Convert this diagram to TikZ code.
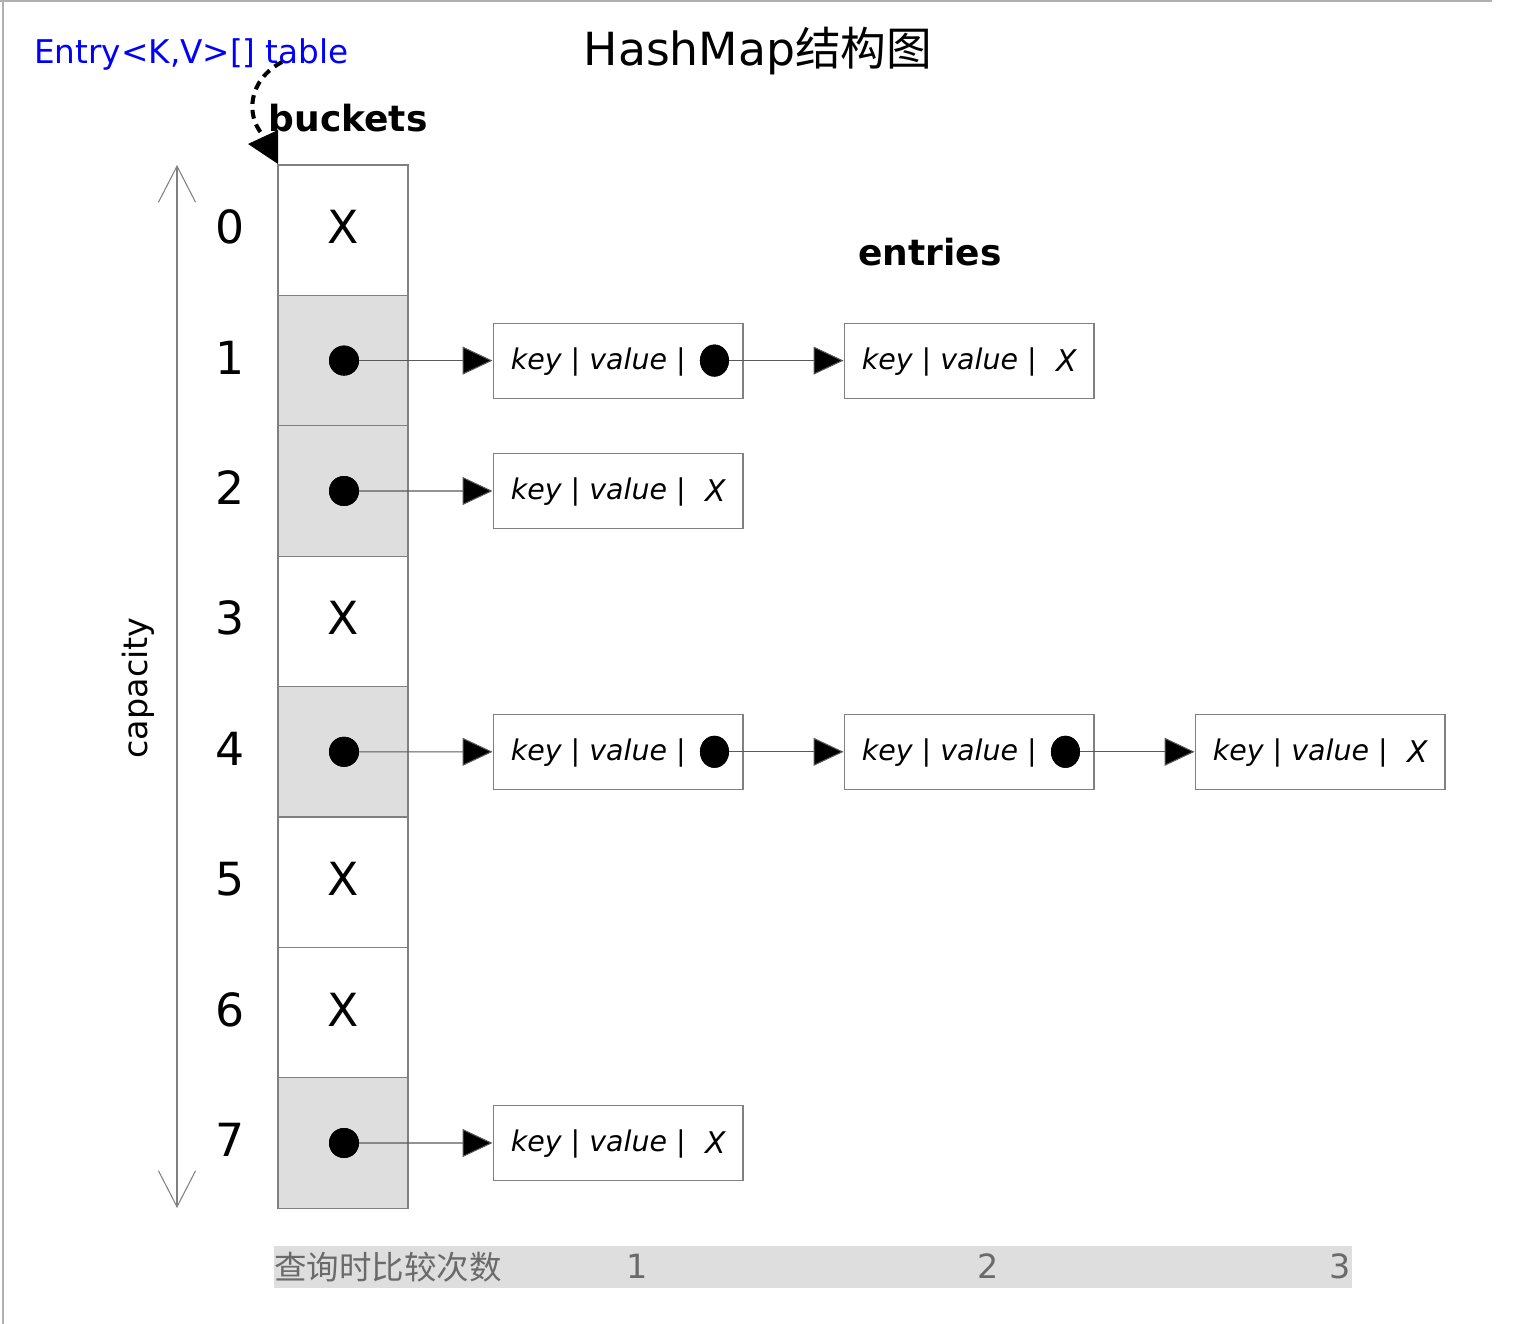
\documentclass[tikz,border=0pt]{standalone}
\usepackage{fontspec}
\setmainfont{DejaVu Sans}
\newfontfamily\cjk{Noto Sans CJK SC}
\usetikzlibrary{arrows.meta,shapes.geometric}
\definecolor{cellgray}{HTML}{DEDEDE}
\definecolor{edgegray}{HTML}{808080}
\definecolor{framegray}{HTML}{B0B0B0}
\definecolor{bartext}{HTML}{6A6A6A}
\tikzset{
  bucket/.style={draw=edgegray, line width=0.6pt, minimum width=2.6cm, minimum height=2.608cm, inner sep=0pt},
  fullb/.style={bucket, fill=cellgray},
  emptyb/.style={bucket, fill=white},
  bigtxt/.style={inner sep=0pt, font=\fontsize{26pt}{30pt}\selectfont},
  entrybox/.style={draw=edgegray, line width=0.6pt, minimum width=5cm, minimum height=1.5cm, inner sep=0pt},
  entrytxt/.style={inner sep=0pt, anchor=west, font=\fontsize{16.2pt}{19pt}\selectfont\itshape},
  entryx/.style={inner sep=0pt, font=\fontsize{17pt}{19pt}\selectfont\itshape},
  bdot/.style={circle, fill=black, minimum size=0.6cm, inner sep=0pt},
  edot/.style={ellipse, fill=black, minimum width=0.58cm, minimum height=0.64cm, inner sep=0pt},
  link/.style={draw=black!65, line width=0.6pt, -{Triangle[length=0.6cm,width=0.56cm,fill=black]}},
  boldlbl/.style={inner sep=0pt, font=\fontsize{20.5pt}{24pt}\selectfont\bfseries},
}
\begin{document}
\begin{tikzpicture}[x=0.02cm,y=-0.02cm]
\useasboundingbox (0,0) rectangle (1534,1324);
% frame
\draw[framegray, line width=1.2pt] (0,1) -- (1492,1);
\draw[framegray, line width=1.2pt] (3,0) -- (3,1324);

% title and labels
\node[inner sep=0pt, font=\fontsize{26pt}{30pt}\selectfont] (title) at (758,51) {HashMap{\cjk 结构图}};
\node[inner sep=0pt, text=blue, font=\fontsize{18.6pt}{22pt}\selectfont] (tbl) at (191.5,54) {Entry<K,V>[] table};
\node[boldlbl] (bk) at (348,118) {buckets};
\node[boldlbl] (ent) at (930,252) {entries};

% buckets
\foreach \i/\s in {0/emptyb,1/fullb,2/fullb,3/emptyb,4/fullb,5/emptyb,6/emptyb,7/fullb}{
  \node[\s] (b\i) at (343,{230.2+130.4*\i}) {};
  \node[bigtxt] (n\i) at (230,{227+130.4*\i}) {\i};
}
\foreach \i in {0,3,5,6}{
  \node[bigtxt] (x\i) at (343,{227+130.4*\i}) {X};
}
\foreach \i in {1,2,4,7}{
  \node[bdot] (d\i) at (344,{230.2+130.4*\i}) {};
}

% pointer from table label to buckets
\coordinate (corner) at (278,164);
\draw[black, line width=2.3pt, dash pattern=on 5pt off 3.5pt] (282,62) .. controls (248,80) and (246,115) .. (262,134);
\fill[black] (248,144) -- (278,130) -- (corner) -- cycle;

% capacity arrow
\coordinate (capTop) at (177,165);
\coordinate (capBot) at (177,1208);
\draw[edgegray, line width=0.6pt, {Straight Barb[length=0.72cm,width=0.74cm]}-{Straight Barb[length=0.72cm,width=0.74cm]}] (capTop) -- (capBot);
\node[inner sep=0pt, rotate=90, font=\fontsize{19pt}{22pt}\selectfont] (cap) at (138,688) {capacity};

% entries: row 1
\node[entrybox] (e11) at (618,360.6) {};
\node[entrytxt] (t11) at ([xshift=0.36cm,yshift=-0.02cm]e11.west) {key | value |};
\node[edot] (f11) at ([xshift=4.44cm]e11.west) {};
\node[entrybox] (e12) at (969,360.6) {};
\node[entrytxt] (t12) at ([xshift=0.36cm,yshift=-0.02cm]e12.west) {key | value |};
\node[entryx] (g12) at ([xshift=4.46cm]e12.west) {X};
% row 2
\node[entrybox] (e21) at (618,491) {};
\node[entrytxt] (t21) at ([xshift=0.36cm,yshift=-0.02cm]e21.west) {key | value |};
\node[entryx] (g21) at ([xshift=4.46cm]e21.west) {X};
% row 4
\node[entrybox] (e41) at (618,751.8) {};
\node[entrytxt] (t41) at ([xshift=0.36cm,yshift=-0.02cm]e41.west) {key | value |};
\node[edot] (f41) at ([xshift=4.44cm]e41.west) {};
\node[entrybox] (e42) at (969,751.8) {};
\node[entrytxt] (t42) at ([xshift=0.36cm,yshift=-0.02cm]e42.west) {key | value |};
\node[edot] (f42) at ([xshift=4.44cm]e42.west) {};
\node[entrybox] (e43) at (1320,751.8) {};
\node[entrytxt] (t43) at ([xshift=0.36cm,yshift=-0.02cm]e43.west) {key | value |};
\node[entryx] (g43) at ([xshift=4.46cm]e43.west) {X};
% row 7
\node[entrybox] (e71) at (618,1143) {};
\node[entrytxt] (t71) at ([xshift=0.36cm,yshift=-0.02cm]e71.west) {key | value |};
\node[entryx] (g71) at ([xshift=4.46cm]e71.west) {X};

% links
\draw[link] (d1.center) -- (e11.west);
\draw[link] (f11.center) -- (e12.west);
\draw[link] (d2.center) -- (e21.west);
\draw[link] (d4.center) -- (e41.west);
\draw[link] (f41.center) -- (e42.west);
\draw[link] (f42.center) -- (e43.west);
\draw[link] (d7.center) -- (e71.west);
% redraw dots on top
\foreach \n in {d1,d2,d4,d7}{\fill[black] (\n) circle[radius=0.3cm];}
\foreach \n in {f11,f41,f42}{\fill[black] (\n) ellipse[x radius=0.29cm, y radius=0.32cm];}

% bottom bar
\node[fill=cellgray, minimum width=21.56cm, minimum height=0.84cm, inner sep=0pt] (bar) at (813,1267) {};
\node[inner sep=0pt, anchor=west, text=bartext, font=\cjk\fontsize{18.5pt}{21pt}\selectfont] (q) at (274,1267) {查询时比较次数};
\node[inner sep=0pt, text=bartext, font=\fontsize{19pt}{22pt}\selectfont] (c1) at (637,1266) {1};
\node[inner sep=0pt, text=bartext, font=\fontsize{19pt}{22pt}\selectfont] (c2) at (988,1266) {2};
\node[inner sep=0pt, text=bartext, font=\fontsize{19pt}{22pt}\selectfont] (c3) at (1340,1266) {3};
\end{tikzpicture}
\end{document}
